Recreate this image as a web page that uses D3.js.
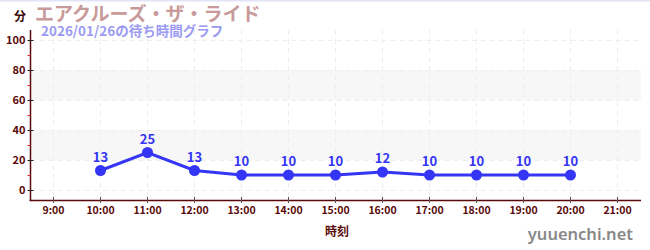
<!DOCTYPE html>
<html><head><meta charset="utf-8">
<script src="https://cdn.jsdelivr.net/npm/d3@7"></script>
<style>body{margin:0;background:#fff}svg{display:block;font-family:"Noto Sans CJK JP","Noto Sans",sans-serif}</style>
</head><body><svg id="c" width="650" height="250"></svg>
<script>
const hours = ["9:00","10:00","11:00","12:00","13:00","14:00","15:00","16:00","17:00","18:00","19:00","20:00","21:00"];
const times = ["10:00","11:00","12:00","13:00","14:00","15:00","16:00","17:00","18:00","19:00","20:00"];
const waits = [13,25,13,10,10,10,12,10,10,10,10];
const yTicks = [0,20,40,60,80,100];
const yMinor = [10,30,50,70,90];
const bands = [[20,40],[60,80]];
const title = "エアクルーズ・ザ・ライド";
const subtitle = "2026/01/26の待ち時間グラフ";

const svg = d3.select("#c");
const L = 30.5, R = 641, T = 30, B = 200;
const x = d3.scalePoint().domain(hours).range([53.5, 617.5]);
const y = d3.scaleLinear().domain([0,100]).range([190, 40]);

svg.append("rect").attr("x",0).attr("y",0).attr("width",650).attr("height",1.5).attr("fill","#e4e4f8");

// bands
svg.selectAll(".band").data(bands).join("rect")
  .attr("x",L).attr("width",R-L)
  .attr("y",d=>y(d[1])).attr("height",d=>y(d[0])-y(d[1]))
  .attr("fill","#f7f7f7");

// grid
svg.selectAll(".hg").data(yTicks).join("line")
  .attr("x1",L).attr("x2",R).attr("y1",d=>y(d)+0.5).attr("y2",d=>y(d)+0.5)
  .attr("stroke","#ededed").attr("stroke-dasharray","5,4");
svg.selectAll(".vg").data(hours).join("line")
  .attr("x1",d=>x(d)).attr("x2",d=>x(d)).attr("y1",T).attr("y2",B)
  .attr("stroke","#ededed").attr("stroke-dasharray","5,4");

// y axis
const axCol = "#5a0a0a";
svg.append("line").attr("x1",L).attr("x2",L).attr("y1",T).attr("y2",B).attr("stroke",axCol).attr("stroke-width",1.5);
svg.selectAll(".ymt").data(yMinor).join("line")
  .attr("x1",L-3).attr("x2",L).attr("y1",d=>y(d)+0.5).attr("y2",d=>y(d)+0.5).attr("stroke","#e02020");
svg.selectAll(".yt").data(yTicks).join("line")
  .attr("x1",L-3).attr("x2",L+3).attr("y1",d=>y(d)+0.5).attr("y2",d=>y(d)+0.5).attr("stroke","#222");
svg.selectAll(".yl").data(yTicks).join("text")
  .attr("x",L-5).attr("y",d=>y(d)+4).attr("text-anchor","end")
  .attr("font-size",11).attr("font-weight","bold").attr("fill",axCol).text(d=>d);

// x axis
svg.append("line").attr("x1",L-1).attr("x2",R).attr("y1",B+0.5).attr("y2",B+0.5).attr("stroke",axCol).attr("stroke-width",1.5);
svg.selectAll(".xt").data(hours).join("line")
  .attr("x1",d=>x(d)).attr("x2",d=>x(d)).attr("y1",B-3).attr("y2",B+3).attr("stroke","#555");
svg.selectAll(".xl").data(hours).join("text")
  .attr("x",d=>x(d)).attr("y",B+14).attr("text-anchor","middle")
  .attr("font-size",10.5).attr("font-weight","bold").attr("fill",axCol).text(d=>d);
svg.append("text").attr("x",337).attr("y",236).attr("text-anchor","middle")
  .attr("font-size",12).attr("font-weight","bold").attr("fill",axCol).text("時刻");

// titles
svg.append("text").attr("x",14).attr("y",21).attr("font-size",12).attr("font-weight","bold").attr("fill","#3a0a0a").text("分");
svg.append("text").attr("x",35).attr("y",21).attr("font-size",19).attr("font-weight","bold").attr("fill","#c89a9a").text(title);
svg.append("text").attr("x",41).attr("y",36).attr("font-size",13.5).attr("font-weight","bold").attr("fill","#9b9bf2").text(subtitle);

// line
const col = "#3535f5";
svg.append("path").datum(waits.map((v,i)=>[times[i],v]))
  .attr("d",d3.line().x(d=>x(d[0])).y(d=>y(d[1])))
  .attr("fill","none").attr("stroke",col).attr("stroke-width",3);
svg.selectAll(".pt").data(times).join("circle")
  .attr("cx",d=>x(d)).attr("cy",(d,i)=>y(waits[i])).attr("r",5.5).attr("fill",col);
svg.selectAll(".pl").data(times).join("text")
  .attr("x",d=>x(d)).attr("y",(d,i)=>y(waits[i])-9).attr("text-anchor","middle")
  .attr("font-size",13).attr("font-weight","bold").attr("fill",col).text((d,i)=>waits[i]);

svg.append("text").attr("x",633).attr("y",240).attr("text-anchor","end")
  .attr("font-size",16.5).attr("font-weight",600).attr("font-family","'Noto Sans',sans-serif").attr("fill","#888").text("yuuenchi.net");
</script></body></html>
